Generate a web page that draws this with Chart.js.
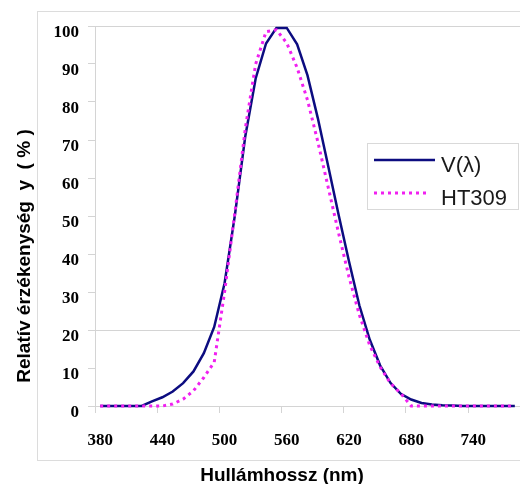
<!DOCTYPE html>
<html>
<head>
<meta charset="utf-8">
<script src="https://cdn.jsdelivr.net/npm/chart.js@4.4.0/dist/chart.umd.min.js"></script>
<style>
  html, body { margin: 0; padding: 0; background: #fff; overflow: hidden; }
  #wrap { position: relative; width: 520px; height: 484px; }
</style>
</head>
<body>
<div id="wrap"><canvas id="chart" width="520" height="484"></canvas></div>
<script>
// wavelengths in nm, 10 nm steps
const wavelengths = [380, 390, 400, 410, 420, 430, 440, 450, 460, 470,
                     480, 490, 500, 510, 520, 530, 540, 550, 560, 570,
                     580, 590, 600, 610, 620, 630, 640, 650, 660, 670,
                     680, 690, 700, 710, 720, 730, 740, 750, 760, 770, 780];
const vLambda = [0, 0, 0, 0, 0, 1.2, 2.3, 3.8, 6.0, 9.1,
                 13.9, 20.8, 32.3, 50.3, 71.0, 86.2, 95.4, 99.5, 99.5, 95.2,
                 87.0, 75.7, 63.1, 50.3, 38.1, 26.5, 17.5, 10.7, 6.1, 3.2,
                 1.7, 0.8, 0.4, 0.2, 0.1, 0, 0, 0, 0, 0, 0];
const ht309 = [0, 0, 0, 0, 0, 0, 0, 0.5, 1.8, 4.0,
               7.5, 11.5, 30.0, 51.0, 73.0, 90.0, 98.5, 99.0, 95.5, 89.0,
               80.5, 69.5, 57.5, 45.5, 34.0, 24.0, 16.0, 10.3, 6.0, 3.3,
               0, 0, 0, 0, 0, 0, 0, 0, 0, 0, 0];
const xTickLabels = [380, 440, 500, 560, 620, 680, 740];
const yTicks = [0, 10, 20, 30, 40, 50, 60, 70, 80, 90, 100];

const X_MIN = 375, X_MAX = 785;
const GRID = '#d4d4d4';

// frame, axis titles and the legend box
const decor = {
  id: 'decor',
  beforeDraw(chart) {
    const c = chart.ctx;
    c.save();
    c.fillStyle = '#fff';
    c.fillRect(0, 0, chart.width, chart.height);
    c.strokeStyle = '#dcdcdc';
    c.lineWidth = 1;
    c.strokeRect(37.5, 11.5, 500, 449);
    c.restore();
  },
  afterDraw(chart) {
    const c = chart.ctx;
    c.save();
    c.fillStyle = '#000';
    c.font = 'bold 19px "Liberation Sans", Arial, sans-serif';
    c.textAlign = 'center';
    c.textBaseline = 'alphabetic';
    c.fillText('Hullámhossz (nm)', 282, 481);

    c.translate(30, 256);
    c.rotate(-Math.PI / 2);
    c.font = 'bold 19px "Liberation Sans", Arial, sans-serif';
    c.fillText('Relatív érzékenység  y  ( % )', 0, 0);
    c.restore();

    // legend
    c.save();
    c.fillStyle = '#fff';
    c.fillRect(367, 143, 151, 66);
    c.strokeStyle = '#d9d9d9';
    c.lineWidth = 1;
    c.strokeRect(367.5, 143.5, 151, 66);
    const rows = [160, 193];
    chart.data.datasets.forEach((ds, i) => {
      const y = rows[i];
      c.strokeStyle = ds.borderColor;
      c.lineWidth = ds.borderWidth;
      c.setLineDash(ds.borderDash || []);
      c.beginPath();
      c.moveTo(374, y);
      c.lineTo(i === 0 ? 435 : 429, y);
      c.stroke();
      c.setLineDash([]);
      c.fillStyle = '#1a1a1a';
      c.font = '22px "Liberation Sans", Arial, sans-serif';
      c.textAlign = 'left';
      c.textBaseline = 'alphabetic';
      c.fillText(ds.label, 441, y + 12);
    });
    c.restore();
  }
};

new Chart(document.getElementById('chart'), {
  type: 'line',
  data: {
    datasets: [
      {
        label: 'V(λ)',
        data: wavelengths.map((w, i) => ({ x: w, y: vLambda[i] })),
        borderColor: '#0c0c80',
        borderWidth: 2.5,
        pointRadius: 0,
        tension: 0,
        fill: false,
        clip: 6,
        order: 1,
      },
      {
        label: 'HT309',
        data: wavelengths.map((w, i) => ({ x: w, y: ht309[i] })),
        borderColor: '#f020f0',
        borderWidth: 3,
        borderDash: [3, 4],
        pointRadius: 0,
        tension: 0,
        fill: false,
        clip: 6,
        order: 0,
      }
    ]
  },
  options: {
    responsive: false,
    animation: false,
    devicePixelRatio: 1,
    layout: { padding: { top: 26, right: 0, bottom: 0, left: 0 } },
    plugins: { legend: { display: false }, tooltip: { enabled: false } },
    scales: {
      x: {
        type: 'linear',
        min: X_MIN, max: X_MAX,
        afterBuildTicks: s => { s.ticks = xTickLabels.map(v => ({ value: v - 5 })); },
        afterFit: s => { s.height = 78; },
        ticks: {
          callback: v => String(v + 5),
          labelOffset: 5.2,
          padding: 17,
          maxRotation: 0,
          autoSkip: false,
          color: '#000',
          font: { family: '"Liberation Serif", "Times New Roman", serif', size: 17, weight: 'bold' },
        },
        grid: { drawOnChartArea: false, tickLength: 7, tickColor: GRID },
        border: { color: GRID },
      },
      y: {
        min: 0, max: 100,
        afterBuildTicks: s => { s.ticks = yTicks.map(v => ({ value: v })); },
        afterFit: s => { s.width = 95; },
        ticks: {
          labelOffset: 7,
          padding: 9,
          color: '#000',
          font: { family: '"Liberation Serif", "Times New Roman", serif', size: 17, weight: 'bold' },
        },
        grid: {
          color: ctx => (ctx.tick && (ctx.tick.value === 20 || ctx.tick.value === 100)) ? GRID : 'rgba(0,0,0,0)',
          tickColor: GRID,
          tickLength: 7,
        },
        border: { color: GRID },
      }
    }
  },
  plugins: [decor]
});
</script>
</body>
</html>
